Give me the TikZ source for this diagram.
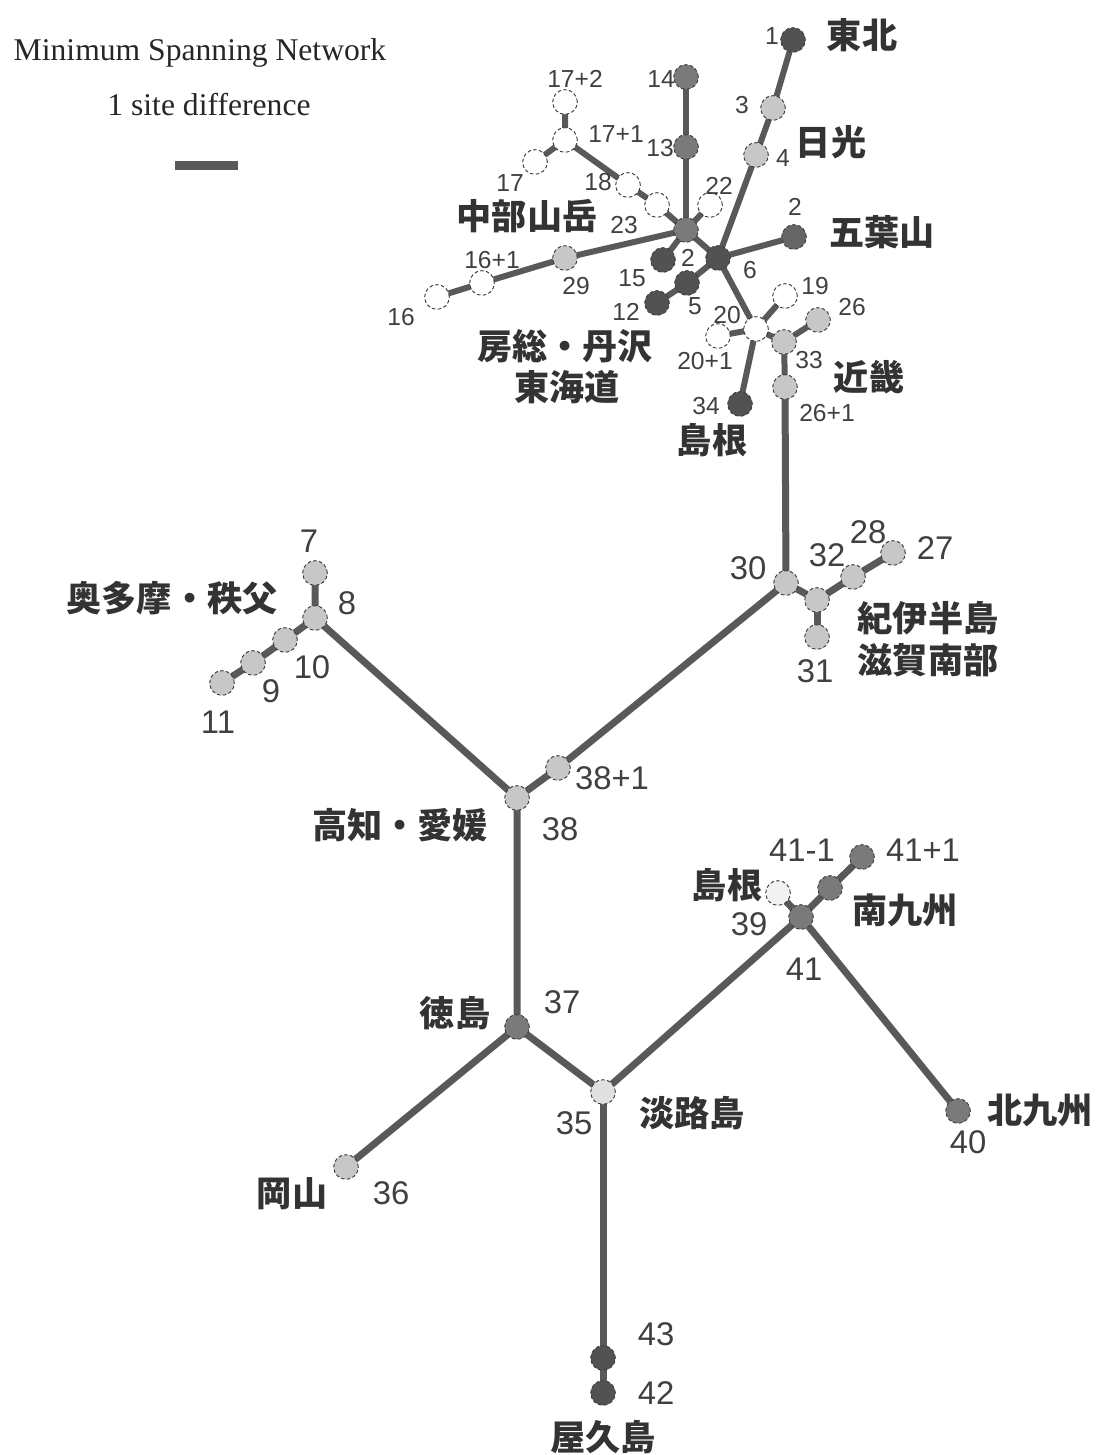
\documentclass[tikz,border=0pt]{standalone}
\usepackage{fontspec}
\setmainfont{Liberation Serif}
\newfontfamily\jp{Noto Sans CJK JP}
\newfontfamily\numf{Liberation Sans}
\usetikzlibrary{backgrounds}
\begin{document}
\begin{tikzpicture}[x=0.03cm,y=-0.03cm,
  nd/.style={circle,minimum size=0.74cm,inner sep=0pt,draw=black!75,densely dashed,line width=0.8pt},
  dk/.style={nd,fill=black!68},
  md/.style={nd,fill=black!52},
  lt/.style={nd,fill=black!22},
  wt/.style={nd,fill=white},
  ed/.style={draw=black!65,line width=0.21cm},
  edt/.style={draw=black!65,line width=0.18cm},
  jl/.style={font=\jp\bfseries\fontsize{30}{32}\selectfont,text=black!80,inner sep=0pt},
  bn/.style={font=\numf\fontsize{28}{30}\selectfont,text=black!75,inner sep=0pt},
  sn/.style={font=\numf\fontsize{21}{23}\selectfont,text=black!75,inner sep=0pt},
  lg/.style={font=\fontsize{27}{29}\selectfont,text=black!85,inner sep=0pt}]
\useasboundingbox (0,0) rectangle (1104,1455);

% legend
\node[lg] (lg1) at (200,53) {Minimum Spanning Network};
\node[lg] (lg2) at (209,105) {1 site difference};
\node[fill=black!65,minimum width=63*0.03cm,minimum height=9*0.03cm,inner sep=0pt] (bar) at (206,165) {};

% top cluster nodes
\node[dk] (n1) at (793,40) {};
\node[lt] (n3) at (773,108) {};
\node[lt] (n4) at (756,155) {};
\node[md] (n14) at (686,77) {};
\node[md] (n13) at (686,147) {};
\node[md] (hub) at (686,230) {};
\node[dk] (n6) at (718,258) {};
\node[wt] (n22) at (710,205) {};
\node[wt] (n23) at (657,205) {};
\node[wt] (n18) at (628,185) {};
\node[wt] (n171) at (565,140) {};
\node[wt] (n172) at (565,102) {};
\node[wt] (n17) at (535,162) {};
\node[lt] (n29) at (565,258) {};
\node[wt] (n161) at (482,283) {};
\node[wt] (n16) at (437,297) {};
\node[nd,fill=black!60] (n2) at (794,237) {};
\node[dk] (n15) at (663,260) {};
\node[dk] (n5) at (687,283) {};
\node[dk] (n12) at (657,303) {};
\node[wt] (n20) at (756,329) {};
\node[wt] (n201) at (718,336) {};
\node[wt] (n19) at (785,296) {};
\node[lt] (n33) at (784,342) {};
\node[lt] (n26) at (818,320) {};
\node[lt] (n261) at (785,387) {};
\node[dk] (n34) at (740,404) {};

% main nodes
\node[lt] (n30) at (786,583) {};
\node[lt] (n32) at (817,600) {};
\node[lt] (n28) at (853,577) {};
\node[lt] (n27) at (893,553) {};
\node[lt] (n31) at (817,637) {};
\node[lt] (n7) at (315,573) {};
\node[lt] (n8) at (315,618) {};
\node[lt] (n10) at (285,640) {};
\node[lt] (n9) at (253,663) {};
\node[lt] (n11) at (222,683) {};
\node[lt] (n38) at (517,798) {};
\node[lt] (n381) at (558,768) {};
\node[md] (n37) at (517,1027) {};
\node[nd,fill=black!12] (n35) at (603,1092) {};
\node[lt] (n36) at (346,1167) {};
\node[md] (n41) at (801,917) {};
\node[nd,fill=black!5] (n39) at (778,893) {};
\node[md] (n41m) at (830,888) {};
\node[md] (n411) at (862,857) {};
\node[md] (n40) at (958,1111) {};
\node[dk] (n43) at (603,1358) {};
\node[dk] (n42) at (603,1393) {};

\begin{scope}[on background layer]
\draw[edt] (n14.center) -- (n13.center) -- (hub.center);
\draw[edt] (n1.center) -- (n3.center) -- (n4.center) -- (n6.center);
\draw[edt] (hub.center) -- (n6.center) -- (n2.center);
\draw[edt] (hub.center) -- (n22.center);
\draw[edt] (hub.center) -- (n23.center) -- (n18.center) -- (n171.center) -- (n172.center);
\draw[edt] (n171.center) -- (n17.center);
\draw[edt] (hub.center) -- (n29.center) -- (n161.center) -- (n16.center);
\draw[edt] (hub.center) -- (n15.center);
\draw[edt] (n6.center) -- (n5.center) -- (n12.center);
\draw[edt] (n6.center) -- (n20.center) -- (n201.center);
\draw[edt] (n20.center) -- (n19.center);
\draw[edt] (n20.center) -- (n33.center) -- (n26.center);
\draw[edt] (n33.center) -- (n261.center);
\draw[edt] (n20.center) -- (n34.center);
\draw[ed] (n261.center) -- (n30.center);
\draw[ed] (n30.center) -- (n32.center) -- (n28.center) -- (n27.center);
\draw[ed] (n32.center) -- (n31.center);
\draw[ed] (n30.center) -- (n381.center) -- (n38.center);
\draw[ed] (n38.center) -- (n8.center) -- (n7.center);
\draw[ed] (n8.center) -- (n10.center) -- (n9.center) -- (n11.center);
\draw[ed] (n38.center) -- (n37.center) -- (n36.center);
\draw[ed] (n37.center) -- (n35.center) -- (n41.center) -- (n40.center);
\draw[ed] (n41.center) -- (n39.center);
\draw[ed] (n41.center) -- (n41m.center) -- (n411.center);
\draw[ed] (n35.center) -- (n43.center) -- (n42.center);
\end{scope}

% small number labels
\node[sn] (t1) at (772,36) {1};
\node[sn] (t3) at (742,105) {3};
\node[sn] (t4) at (783,158) {4};
\node[sn] (t14) at (661,79) {14};
\node[sn] (t13) at (660,148) {13};
\node[sn] (t22) at (719,186) {22};
\node[sn] (t2) at (795,207) {2};
\node[sn] (t6) at (750,270) {6};
\node[sn] (t23) at (624,225) {23};
\node[sn] (t18) at (598,182) {18};
\node[sn] (t17) at (510,183) {17};
\node[sn] (t171) at (616,134) {17+1};
\node[sn] (t172) at (575,79) {17+2};
\node[sn] (t161) at (492,260) {16+1};
\node[sn] (t29) at (576,286) {29};
\node[sn] (t16) at (401,317) {16};
\node[sn] (t15) at (632,278) {15};
\node[sn] (t21) at (688,258) {2};
\node[sn] (t5) at (695,306) {5};
\node[sn] (t12) at (626,312) {12};
\node[sn] (t20) at (727,315) {20};
\node[sn] (t201) at (705,361) {20+1};
\node[sn] (t19) at (815,286) {19};
\node[sn] (t26) at (852,307) {26};
\node[sn] (t33) at (809,360) {33};
\node[sn] (t261) at (827,413) {26+1};
\node[sn] (t34) at (706,406) {34};

% big number labels
\node[bn] (t7) at (309,541) {7};
\node[bn] (t8) at (347,603) {8};
\node[bn] (t10) at (312,667) {10};
\node[bn] (t9) at (271,691) {9};
\node[bn] (t11) at (218,722) {11};
\node[bn] (t38) at (560,829) {38};
\node[bn] (t381) at (612,778) {38+1};
\node[bn] (t37) at (562,1002) {37};
\node[bn] (t35) at (574,1123) {35};
\node[bn] (t36) at (391,1193) {36};
\node[bn] (t30) at (748,568) {30};
\node[bn] (t32) at (827,555) {32};
\node[bn] (t28) at (868,532) {28};
\node[bn] (t27) at (935,548) {27};
\node[bn] (t31) at (815,671) {31};
\node[bn] (t41a) at (802,850) {41-1};
\node[bn] (t41b) at (923,850) {41+1};
\node[bn] (t39) at (749,924) {39};
\node[bn] (t41) at (804,969) {41};
\node[bn] (t40) at (968,1142) {40};
\node[bn] (t43) at (656,1334) {43};
\node[bn] (t42) at (656,1393) {42};

% Japanese labels
\node[jl] (j1) at (862,35) {東北};
\node[jl] (j2) at (831,142) {日光};
\node[jl] (j3) at (882,232) {五葉山};
\node[jl] (j4) at (527,216) {中部山岳};
\node[jl] (j5) at (565,346) {房総・丹沢};
\node[jl] (j6) at (567,387) {東海道};
\node[jl] (j7) at (712,440) {島根};
\node[jl] (j8) at (869,377) {近畿};
\node[jl] (j9) at (928,618) {紀伊半島};
\node[jl] (j10) at (928,660) {滋賀南部};
\node[jl] (j11) at (172,598) {奥多摩・秩父};
\node[jl] (j12) at (400,825) {高知・愛媛};
\node[jl] (j13) at (455,1013) {徳島};
\node[jl] (j14) at (692,1113) {淡路島};
\node[jl] (j15) at (292,1194) {岡山};
\node[jl] (j16) at (603,1437) {屋久島};
\node[jl] (j17) at (727,885) {島根};
\node[jl] (j18) at (905,910) {南九州};
\node[jl] (j19) at (1040,1110) {北九州};
\end{tikzpicture}
\end{document}
